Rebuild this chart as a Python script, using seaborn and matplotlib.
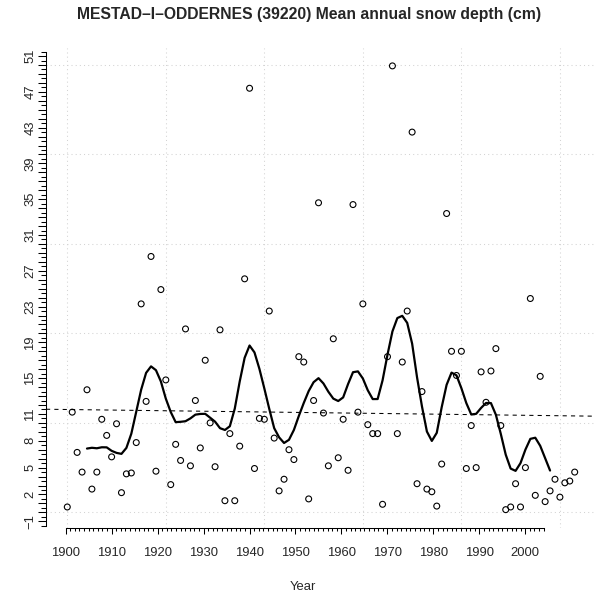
import numpy as np
import pandas as pd
import matplotlib
matplotlib.use("Agg")
import matplotlib.pyplot as plt
import seaborn as sns

# annual values
years = list(range(1900, 2004))
snow_depth = [
    0.6, 11.2, 6.7, 4.5, 13.7, 2.6, 4.5, 10.4, 8.6, 6.2,
    9.9, 2.2, 4.3, 4.4, 7.8, 23.3, 12.4, 28.6, 4.6, 24.9,
    14.8, 3.1, 7.6, 5.8, 20.5, 5.2, 12.5, 7.2, 17.0, 10.0,
    5.1, 20.4, 1.3, 8.8, 1.3, 7.4, 26.1, 47.4, 4.9, 10.5,
    10.4, 22.5, 8.3, 2.4, 3.7, 7.0, 5.9, 17.4, 16.8, 1.5,
    12.5, 34.6, 11.1, 5.2, 19.4, 6.1, 10.4, 4.7, 34.4, 11.2,
    23.3, 9.8, 8.8, 8.8, 0.9, 17.4, 49.9, 8.8, 16.8, 22.5,
    42.5, 3.2, 13.5, 2.6, 2.3, 0.7, 5.4, 33.4, 18.0, 15.3,
    18.0, 4.9, 9.7, 5.0, 15.7, 12.3, 15.8, 18.3, 9.7, 0.3,
    0.6, 3.2, 0.6, 5.0, 23.9, 1.9, 15.2, 1.2, 2.4, 3.7,
    1.7, 3.3, 3.5, 4.5,
]
x_tick_labels = list(range(1900, 2001, 10))
y_tick_labels = [-1, 2, 5, 8, 11, 15, 19, 23, 27, 31, 35, 39, 43, 47, 51]
title = "MESTAD\u2013I\u2013ODDERNES (39220) Mean annual snow depth (cm)"

df = pd.DataFrame({"Year": years, "Depth": snow_depth})

# gaussian weighted running mean (10 taps)
offsets = np.arange(-4, 6)
weights = np.exp(-0.5 * (offsets / 2.1) ** 2)
weights = weights / weights.sum()
depth = df["Depth"].to_numpy()
smooth = np.full(len(depth), np.nan)
for i in range(4, len(depth) - 5):
    smooth[i] = np.dot(weights, depth[i - 4:i + 6])
df["Smooth"] = smooth

sns.set_style("white")
plt.rcParams["font.family"] = ["Liberation Sans", "DejaVu Sans"]

W, H = 602, 596
fig = plt.figure(figsize=(W / 100, H / 100), dpi=100)
left, right, top, bottom = 46, 594, 48, 528
ax = fig.add_axes([left / W, 1 - bottom / H, (right - left) / W, (bottom - top) / H])
ax.set_xlim(1895.68, 2006.92)
ax.set_ylim(-1.75, 51.9)

# dotted grid
for gx in range(1900, 2001, 20):
    ax.axvline(gx, color="#d3d3d3", lw=0.75, ls=(0, (1, 3)), zorder=0)
for gy in range(0, 51, 10):
    ax.axhline(gy, color="#d3d3d3", lw=0.75, ls=(0, (1, 3)), zorder=0)

sns.regplot(data=df, x="Year", y="Depth", scatter=False, ci=None, truncate=False,
            ax=ax, line_kws={"color": "black", "lw": 0.75, "ls": (0, (4, 4))})
sns.scatterplot(data=df, x="Year", y="Depth", ax=ax, marker="o", s=18,
                fc="none", ec="black", linewidth=0.8, zorder=3)
sns.lineplot(data=df, x="Year", y="Smooth", ax=ax, estimator=None,
             color="black", lw=1.6, zorder=4)

# x axis labels are drawn on a slightly compressed scale, as in the original
axis_x0, axis_step = 1899.675, 0.933
ax.set_xticks([axis_x0 + (v - 1900) * axis_step for v in x_tick_labels])
ax.set_xticklabels([str(v) for v in x_tick_labels])
ax.set_xticks([axis_x0 + k * axis_step for k in range(0, 105)], minor=True)

ax.set_yticks(range(-1, 52))
ax.set_yticklabels([str(v).replace("-", "\u2212") if v in y_tick_labels else ""
                    for v in range(-1, 52)], rotation=90, va="center")
ax.set_yticks(np.arange(-1.5, 52, 1.0), minor=True)

for s in ["top", "right"]:
    ax.spines[s].set_visible(False)
ax.spines["bottom"].set_bounds(axis_x0, axis_x0 + 104 * axis_step)
ax.spines["left"].set_bounds(-1.5, 51.5)
for s in ["bottom", "left"]:
    ax.spines[s].set_linewidth(0.75)
    ax.spines[s].set_color("black")

ax.tick_params(axis="x", which="major", length=4.5, width=0.75, pad=9,
               labelsize=9.4, bottom=True, color="black")
ax.tick_params(axis="x", which="minor", length=2.2, width=0.75, bottom=True, color="black")
ax.tick_params(axis="y", which="major", length=5.5, width=0.75, pad=1.5,
               labelsize=9.4, left=True, color="black")
ax.tick_params(axis="y", which="minor", length=3.5, width=0.75, left=True, color="black")
ax.set_xlabel("")
ax.set_ylabel("")

fig.text(309.5 / W, 1 - 14 / H, title, ha="center", va="center",
         fontsize=11.3, fontweight="bold")
fig.text(303 / W, 1 - 587 / H, "Year", ha="center", va="center", fontsize=9.4)

fig.savefig("out.png", dpi=100)
